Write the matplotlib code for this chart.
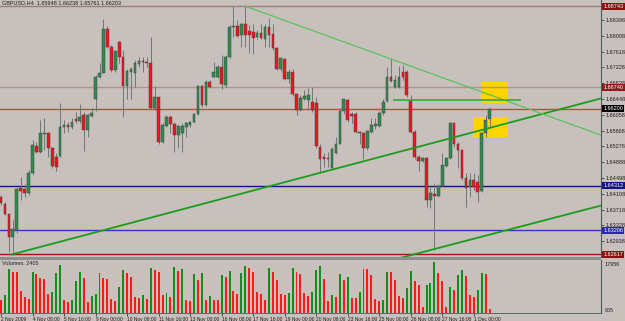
import matplotlib.pyplot as plt
from matplotlib.patches import Rectangle
from matplotlib.lines import Line2D
import numpy as np

# GBPUSD H4 candles
opens = [1.6404, 1.6386, 1.6361, 1.6305, 1.6321, 1.6424, 1.6422, 1.6412, 1.6461, 1.6530,
         1.6515, 1.6558, 1.6562, 1.6523, 1.6502, 1.6505, 1.6575, 1.6581, 1.6576, 1.6595,
         1.6591, 1.6605, 1.6568, 1.6603, 1.6645, 1.6698, 1.6710, 1.6817, 1.6774, 1.6716,
         1.6785, 1.6748, 1.6677, 1.6712, 1.6710, 1.6731, 1.6738, 1.6736, 1.6733, 1.6622,
         1.6650, 1.6539, 1.6578, 1.6601, 1.6583, 1.6557, 1.6560, 1.6576, 1.6581, 1.6589,
         1.6609, 1.6677, 1.6630, 1.6687, 1.6700, 1.6700, 1.6725, 1.6679, 1.6748, 1.6822,
         1.6825, 1.6803, 1.6829, 1.6813, 1.6811, 1.6797, 1.6807, 1.6794, 1.6823, 1.6805,
         1.6771, 1.6720, 1.6743, 1.6693, 1.6712, 1.6656, 1.6618, 1.6646, 1.6642, 1.6638,
         1.6636, 1.6527, 1.6501, 1.6499, 1.6475, 1.6511, 1.6535, 1.6615, 1.6642, 1.6609,
         1.6609, 1.6564, 1.6562, 1.6523, 1.6564, 1.6578, 1.6578, 1.6611, 1.6641, 1.6700,
         1.6675, 1.6675, 1.6712, 1.6712, 1.6642, 1.6564, 1.6502, 1.6492, 1.6499, 1.6395,
         1.6410, 1.6406, 1.6430, 1.6480, 1.6499, 1.6585, 1.6535, 1.6519, 1.6449, 1.6427,
         1.6446, 1.6441, 1.6418, 1.6560, 1.65948]
highs = [1.6408, 1.6391, 1.6362, 1.6346, 1.6424, 1.6453, 1.6436, 1.6469, 1.6544, 1.6539,
         1.6593, 1.6597, 1.6564, 1.6527, 1.6511, 1.6634, 1.6593, 1.6589, 1.6597, 1.6613,
         1.6632, 1.6613, 1.6609, 1.6622, 1.6704, 1.6733, 1.6842, 1.6826, 1.6778, 1.6766,
         1.6789, 1.6766, 1.6720, 1.6725, 1.6741, 1.6749, 1.6749, 1.6749, 1.6799, 1.6677,
         1.6651, 1.6585, 1.6605, 1.6605, 1.6589, 1.6581, 1.6585, 1.6589, 1.6591, 1.6611,
         1.6679, 1.6679, 1.6692, 1.6692, 1.6737, 1.6729, 1.6753, 1.6753, 1.6827, 1.6874,
         1.6840, 1.6833, 1.6874, 1.6827, 1.6831, 1.6815, 1.6831, 1.6831, 1.6844, 1.6831,
         1.6774, 1.6749, 1.6745, 1.6720, 1.6720, 1.6659, 1.6654, 1.6667, 1.6671, 1.6675,
         1.6650, 1.6534, 1.6511, 1.6515, 1.6527, 1.6552, 1.6622, 1.6646, 1.6645, 1.6613,
         1.6613, 1.6567, 1.6564, 1.6568, 1.6597, 1.6597, 1.6615, 1.6644, 1.6725, 1.6745,
         1.6704, 1.6726, 1.6729, 1.6716, 1.6654, 1.6568, 1.6506, 1.6502, 1.6502, 1.6428,
         1.6438, 1.6436, 1.6511, 1.6502, 1.6589, 1.6589, 1.6539, 1.6521, 1.6461, 1.6461,
         1.6461, 1.6457, 1.6564, 1.6605, 1.66238]
lows = [1.6383, 1.6358, 1.6268, 1.6261, 1.6313, 1.6395, 1.6404, 1.6408, 1.6457, 1.6511,
        1.6511, 1.6519, 1.6502, 1.6474, 1.6468, 1.6502, 1.6560, 1.6564, 1.6572, 1.6585,
        1.6585, 1.6517, 1.6552, 1.6601, 1.6616, 1.6696, 1.6708, 1.6770, 1.6712, 1.6712,
        1.6733, 1.6601, 1.6646, 1.6646, 1.6674, 1.6725, 1.6712, 1.6725, 1.6619, 1.6618,
        1.6535, 1.6537, 1.6576, 1.6560, 1.6515, 1.6523, 1.6515, 1.6552, 1.6576, 1.6585,
        1.6605, 1.6626, 1.6627, 1.6671, 1.6696, 1.6696, 1.6669, 1.6674, 1.6745, 1.6799,
        1.6797, 1.6774, 1.6772, 1.6759, 1.6756, 1.6792, 1.6792, 1.6774, 1.6772, 1.6767,
        1.6716, 1.6715, 1.6692, 1.6685, 1.6653, 1.6605, 1.6615, 1.6642, 1.6618, 1.6613,
        1.6525, 1.6461, 1.6478, 1.6478, 1.6474, 1.6509, 1.6534, 1.6609, 1.6589, 1.6585,
        1.6560, 1.6535, 1.6498, 1.6519, 1.6560, 1.6570, 1.6576, 1.6605, 1.6638, 1.6687,
        1.6673, 1.6673, 1.6692, 1.6650, 1.6560, 1.6498, 1.6468, 1.6490, 1.6379, 1.6375,
        1.6272, 1.6404, 1.6427, 1.6478, 1.6496, 1.6527, 1.6474, 1.6445, 1.6379, 1.6404,
        1.6420, 1.6391, 1.6415, 1.6552, 1.65761]
closes = [1.6387, 1.6361, 1.6305, 1.6323, 1.6422, 1.6418, 1.6412, 1.6461, 1.6531, 1.6515,
          1.6560, 1.6562, 1.6523, 1.6480, 1.6478, 1.6576, 1.6581, 1.6576, 1.6588, 1.6591,
          1.6601, 1.6568, 1.6605, 1.6611, 1.6698, 1.6710, 1.6817, 1.6774, 1.6716, 1.6763,
          1.6748, 1.6677, 1.6715, 1.6720, 1.6733, 1.6738, 1.6735, 1.6733, 1.6622, 1.6650,
          1.6539, 1.6581, 1.6601, 1.6583, 1.6557, 1.6578, 1.6578, 1.6585, 1.6589, 1.6609,
          1.6677, 1.6630, 1.6687, 1.6674, 1.6712, 1.6725, 1.6681, 1.6748, 1.6823, 1.6825,
          1.6800, 1.6829, 1.6804, 1.6804, 1.6796, 1.6807, 1.6796, 1.6823, 1.6803, 1.6771,
          1.6720, 1.6745, 1.6693, 1.6712, 1.6656, 1.6618, 1.6648, 1.6653, 1.6654, 1.6618,
          1.6529, 1.6498, 1.6497, 1.6496, 1.6521, 1.6535, 1.6615, 1.6644, 1.6593, 1.6603,
          1.6564, 1.6562, 1.6523, 1.6566, 1.6581, 1.6583, 1.6611, 1.6638, 1.6698, 1.6690,
          1.6692, 1.6698, 1.6698, 1.6654, 1.6564, 1.6502, 1.6492, 1.6499, 1.6395, 1.6412,
          1.6406, 1.6430, 1.6482, 1.6499, 1.6585, 1.6535, 1.6519, 1.6449, 1.6424, 1.6446,
          1.6427, 1.6416, 1.6560, 1.6592, 1.66203]
volumes = [5241, 6845, 15076, 14221, 14100, 7914, 6096, 5455, 14328, 13472,
           12403, 11869, 7165, 7700, 14007, 16359, 5241, 4493, 5241, 11121,
           14114, 12296, 4493, 6524, 6951, 13793, 12296, 11869, 5455, 4707,
           9303, 14755, 13793, 12510, 5989, 5900, 6845, 5562, 15397, 14862,
           14328, 6845, 7379, 6096, 15717, 14541, 15076, 5027, 4989, 13579,
           11655, 14007, 5241, 6310, 5241, 5100, 13152, 12510, 14541, 8020,
           7165, 14000, 16252, 15610, 14221, 7593, 6951, 5241, 15397, 14221,
           11655, 7058, 6845, 7272, 15397, 14221, 13579, 7272, 6524, 7700,
           14862, 16252, 11976, 4920, 6738, 5989, 13579, 11655, 12617, 5776,
           5700, 7807, 15076, 15000, 13365, 5562, 4920, 5241, 14328, 14250,
           11655, 6524, 5776, 8983, 14541, 11121, 10052, 2889, 10052, 10586,
           17400, 13793, 11441, 2889, 9410, 8448, 13259, 14755, 13045, 6845,
           6096, 8448, 13793, 13579, 2405]

date_labels = ['2 Nov 2009', '4 Nov 08:00', '5 Nov 16:00', '9 Nov 00:00', '10 Nov 08:00',
               '11 Nov 16:00', '13 Nov 00:00', '16 Nov 08:00', '17 Nov 16:00', '19 Nov 00:00',
               '20 Nov 08:00', '23 Nov 16:00', '25 Nov 00:00', '26 Nov 08:00', '27 Nov 16:00',
               '1 Dec 00:00']
price_ticks = [1.68398, 1.68008, 1.67618, 1.67228, 1.66838, 1.66448, 1.66058, 1.65668,
               1.65278, 1.64888, 1.64498, 1.64108, 1.63718, 1.63328, 1.62938]

# horizontal levels and their price tags
level_prices = [1.68743, 1.66740, 1.66210, 1.64312, 1.63206, 1.62617]
level_tags = ['1.68743', '1.66740', '1.66200', '1.64312', '1.63206', '1.62617']
level_line_colors = ['#a07a7a', '#ab958c', '#e23a3a', '#141480', '#3434c4', '#a01414']
level_tag_colors = ['#8c1010', '#8c1a1a', '#000000', '#141480', '#2828b4', '#8c1010']

# trend lines as (bar, price) pairs
up_line = [(2.7, 1.6261), (143.1, 1.66227)]
low_channel = [(101.3, 1.62525), (143.1, 1.63586)]
down_line = [(62, 1.6874), (143.1, 1.65881)]
flat_line = [(99.7, 1.6642), (131.7, 1.6642)]
boxes = [(121.8, 128.7, 1.66350, 1.66868), (119.8, 128.7, 1.65511, 1.66004)]

bg = '#c8c0bd'
W, H = 625, 321
fig = plt.figure(figsize=(W / 100, H / 100), dpi=100, facecolor=bg)
plt.rcParams['font.family'] = ['Liberation Sans', 'DejaVu Sans']

ax = fig.add_axes([0, (H - 257) / H, 601 / W, 257 / H], facecolor=bg)
vax = fig.add_axes([0, 8 / H, 601 / W, 53 / H], facecolor=bg)

n = len(opens)
x = np.arange(n)
xlim = (-0.254, 152.28)

for (x0, x1, p0, p1) in boxes:
    ax.add_patch(Rectangle((x0, p0), x1 - x0, p1 - p0, color='#ffd500', lw=0, zorder=1))

for p, c in zip(level_prices, level_line_colors):
    ax.axhline(p, color=c, lw=1.0, zorder=1.5)

o = np.array(opens)
c = np.array(closes)
up = c >= o
ax.vlines(x, lows, highs, color='#6e7676', lw=0.7, zorder=2)
body_lo = np.minimum(o, c)
body_h = np.maximum(np.abs(c - o), 0.00004)
ax.bar(x[up], body_h[up], bottom=body_lo[up], width=0.68, color='#2f8a4e',
       edgecolor='#3c4a44', lw=0.35, zorder=3)
ax.bar(x[~up], body_h[~up], bottom=body_lo[~up], width=0.68, color='#ea1620',
       edgecolor='#5a3a3a', lw=0.35, zorder=3)


def draw_line(pts, color, lw):
    (xa, ya), (xb, yb) = pts
    slope = (yb - ya) / (xb - xa)
    xs = np.array([xa, xlim[1]])
    ax.plot(xs, ya + slope * (xs - xa), color=color, lw=lw, zorder=4)


draw_line(up_line, '#1c9c1c', 1.3)
draw_line(low_channel, '#1c9c1c', 1.3)
draw_line(down_line, '#5cc05c', 0.9)
ax.plot([flat_line[0][0], flat_line[1][0]], [flat_line[0][1], flat_line[1][1]],
        color='#3cae3c', lw=1.3, zorder=4)

ax.set_xlim(*xlim)
ax.set_ylim(1.62549, 1.68892)
ax.set_xticks([])
ax.yaxis.tick_right()
ax.set_yticks(price_ticks)
ax.set_yticklabels(['%.5f' % p for p in price_ticks])
ax.tick_params(axis='y', length=2.5, width=0.5, pad=1, labelsize=4, colors='#202020')
for s in ['top', 'left', 'bottom']:
    ax.spines[s].set_visible(False)
ax.spines['right'].set_color('#4a5a5a')
ax.spines['right'].set_linewidth(0.8)

for p, t, tc in zip(level_prices, level_tags, level_tag_colors):
    ax.text(1.004, p, t, transform=ax.get_yaxis_transform(), fontsize=4, color='white',
            va='center', ha='left', zorder=6,
            bbox=dict(boxstyle='square,pad=0.18', fc=tc, ec='none'))

ax.text(0.004, 0.997, 'GBPUSD,H4  1.65948 1.66238 1.65761 1.66203', transform=ax.transAxes,
        fontsize=4, va='top', ha='left', color='#202020')

# volumes, coloured by change against the previous bar
v = np.array(volumes)
vcol = ['#ff1a1a'] + ['#10901a' if v[i] > v[i - 1] else '#ff1a1a' for i in range(1, n)]
vax.bar(x, v, width=0.5, color=vcol, lw=0)
vax.set_xlim(*xlim)
vax.set_ylim(965, 18050)
vax.set_yticks([])
vax.set_xticks(range(0, 121, 8))
vax.set_xticklabels(date_labels)
for lab in vax.get_xticklabels():
    lab.set_ha('left')
vax.tick_params(axis='x', length=2.5, width=0.5, pad=0.5, labelsize=3.5, colors='#202020')
for s in ['top', 'left']:
    vax.spines[s].set_visible(False)
vax.spines['right'].set_color('#4a5a5a')
vax.spines['right'].set_linewidth(0.8)
vax.spines['bottom'].set_color('#4a5a5a')
vax.spines['bottom'].set_linewidth(0.6)
vax.text(0.004, 0.99, 'Volumes: 2405', transform=vax.transAxes, fontsize=4,
         va='top', ha='left', color='#202020')
vax.text(1.006, 0.97, '17956', transform=vax.transAxes, fontsize=4, va='top', ha='left',
         color='#202020')
vax.text(1.006, 0.0, '965', transform=vax.transAxes, fontsize=4, va='bottom', ha='left',
         color='#202020')

fig.add_artist(Rectangle((0, (H - 260) / H), 601 / W, 3 / H, transform=fig.transFigure,
                         color='#8e8e8e', lw=0))

fig.savefig('out.png', dpi=100, facecolor=bg)
